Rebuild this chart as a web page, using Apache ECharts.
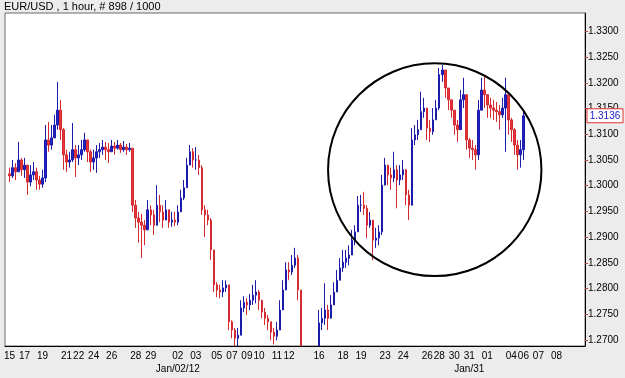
<!DOCTYPE html>
<html>
<head>
    <meta charset="UTF-8">
    <title>EUR/USD 1 hour</title>
    <style type="text/css">
        html, body {
            margin: 0;
            padding: 0;
            background: #ececec;
        }

        #chart {
            width: 625px;
            height: 378px;
        }
    </style>
    <script type="text/javascript" src="https://cdn.jsdelivr.net/npm/echarts@6/dist/echarts.min.js"></script>
</head>
<body>
<div id="chart"></div>
<script type="text/javascript">
    // hourly bars (open = previous close)
    var firstOpen = 1.3023;
    var closes = [
        1.3019, 1.3035, 1.3027, 1.3050, 1.3031, 1.3040, 1.3007, 1.3021, 1.3027, 1.3011,
        1.3003, 1.3015, 1.3089, 1.3079, 1.3093, 1.3118, 1.3147, 1.3109, 1.3060, 1.3046,
        1.3050, 1.3070, 1.3054, 1.3060, 1.3070, 1.3089, 1.3066, 1.3046, 1.3054, 1.3066,
        1.3070, 1.3075, 1.3070, 1.3066, 1.3077, 1.3073, 1.3079, 1.3070, 1.3075, 1.3070,
        1.3073, 1.2962, 1.2937, 1.2929, 1.2923, 1.2914, 1.2953, 1.2943, 1.2923, 1.2962,
        1.2949, 1.2933, 1.2953, 1.2929, 1.2933, 1.2929, 1.2949, 1.2976, 1.2996, 1.3040,
        1.3066, 1.3050, 1.3050, 1.3035, 1.2953, 1.2943, 1.2933, 1.2875, 1.2807, 1.2797,
        1.2793, 1.2801, 1.2807, 1.2735, 1.2719, 1.2703, 1.2709, 1.2762, 1.2773, 1.2768,
        1.2777, 1.2787, 1.2793, 1.2777, 1.2754, 1.2742, 1.2735, 1.2715, 1.2707, 1.2719,
        1.2758, 1.2797, 1.2836, 1.2832, 1.2845, 1.2859, 1.2797, 1.2665, 1.2655, 1.2660,
        1.2650, 1.2658, 1.2668, 1.2733, 1.2742, 1.2758, 1.2742, 1.2768, 1.2793, 1.2816,
        1.2840, 1.2851, 1.2859, 1.2865, 1.2894, 1.2910, 1.2962, 1.2962, 1.2956, 1.2923,
        1.2933, 1.2894, 1.2898, 1.2910, 1.3001, 1.3040, 1.3021, 1.3015, 1.3031, 1.3011,
        1.3021, 1.3031, 1.2982, 1.2962, 1.3089, 1.3099, 1.3109, 1.3144, 1.3151, 1.3112,
        1.3105, 1.3128, 1.3151, 1.3216, 1.3225, 1.3190, 1.3167, 1.3147, 1.3118, 1.3109,
        1.3167, 1.3177, 1.3089, 1.3073, 1.3070, 1.3060, 1.3147, 1.3186, 1.3177, 1.3157,
        1.3151, 1.3147, 1.3144, 1.3138, 1.3151, 1.3177, 1.3128, 1.3109, 1.3079, 1.3060,
        1.3070, 1.3136
    ];
    var highs = [
        1.3035, 1.3050, 1.3044, 1.3085, 1.3054, 1.3054, 1.3040, 1.3040, 1.3046, 1.3035,
        1.3019, 1.3031, 1.3118, 1.3124, 1.3118, 1.3138, 1.3202, 1.3167, 1.3112, 1.3070,
        1.3066, 1.3122, 1.3079, 1.3079, 1.3089, 1.3103, 1.3089, 1.3070, 1.3070, 1.3079,
        1.3083, 1.3089, 1.3085, 1.3083, 1.3089, 1.3085, 1.3089, 1.3083, 1.3087, 1.3081,
        1.3083, 1.3073, 1.2972, 1.2949, 1.2945, 1.2933, 1.2972, 1.2962, 1.2953, 1.3001,
        1.2982, 1.2962, 1.2972, 1.2953, 1.2949, 1.2949, 1.2962, 1.2992, 1.3011, 1.3054,
        1.3079, 1.3073, 1.3075, 1.3060, 1.3040, 1.2962, 1.2953, 1.2937, 1.2875, 1.2812,
        1.2807, 1.2816, 1.2816, 1.2807, 1.2738, 1.2723, 1.2723, 1.2777, 1.2785, 1.2781,
        1.2789, 1.2807, 1.2816, 1.2797, 1.2777, 1.2762, 1.2748, 1.2735, 1.2723, 1.2735,
        1.2777, 1.2816, 1.2851, 1.2851, 1.2865, 1.2879, 1.2865, 1.2797, 1.2672, 1.2675,
        1.2668, 1.2676, 1.2682, 1.2758, 1.2762, 1.2810, 1.2768, 1.2787, 1.2812, 1.2836,
        1.2859, 1.2875, 1.2875, 1.2884, 1.2914, 1.2923, 1.2980, 1.2982, 1.2988, 1.2962,
        1.2949, 1.2929, 1.2918, 1.2923, 1.3021, 1.3054, 1.3040, 1.3035, 1.3066, 1.3040,
        1.3040, 1.3050, 1.3021, 1.2992, 1.3112, 1.3118, 1.3128, 1.3183, 1.3171, 1.3144,
        1.3128, 1.3151, 1.3167, 1.3229, 1.3235, 1.3216, 1.3190, 1.3167, 1.3147, 1.3128,
        1.3186, 1.3210, 1.3167, 1.3093, 1.3089, 1.3079, 1.3167, 1.3210, 1.3216, 1.3177,
        1.3171, 1.3167, 1.3163, 1.3157, 1.3171, 1.3210, 1.3157, 1.3132, 1.3112, 1.3089,
        1.3089, 1.3144
    ];
    var lows = [
        1.3007, 1.3015, 1.3011, 1.3035, 1.3019, 1.3015, 1.2982, 1.2999, 1.3011, 1.2992,
        1.2992, 1.2996, 1.3007, 1.3066, 1.3070, 1.3099, 1.3109, 1.3089, 1.3031, 1.3027,
        1.3035, 1.3046, 1.3017, 1.3040, 1.3050, 1.3066, 1.3046, 1.3027, 1.3031, 1.3025,
        1.3054, 1.3060, 1.3050, 1.3044, 1.3066, 1.3060, 1.3070, 1.3064, 1.3066, 1.3060,
        1.3066, 1.2949, 1.2918, 1.2889, 1.2859, 1.2884, 1.2929, 1.2923, 1.2904, 1.2943,
        1.2929, 1.2918, 1.2933, 1.2918, 1.2920, 1.2921, 1.2923, 1.2953, 1.2972, 1.3001,
        1.3040, 1.3035, 1.3031, 1.3021, 1.2943, 1.2900, 1.2923, 1.2855, 1.2793, 1.2783,
        1.2781, 1.2783, 1.2793, 1.2719, 1.2703, 1.2688, 1.2688, 1.2709, 1.2754, 1.2748,
        1.2758, 1.2768, 1.2771, 1.2758, 1.2742, 1.2729, 1.2719, 1.2699, 1.2691, 1.2699,
        1.2719, 1.2777, 1.2816, 1.2816, 1.2826, 1.2840, 1.2777, 1.2650, 1.2640, 1.2645,
        1.2638, 1.2642, 1.2652, 1.2665, 1.2719, 1.2729, 1.2719, 1.2742, 1.2768, 1.2793,
        1.2816, 1.2832, 1.2840, 1.2845, 1.2875, 1.2884, 1.2923, 1.2949, 1.2943, 1.2898,
        1.2918, 1.2855, 1.2879, 1.2884, 1.2904, 1.3011, 1.3001, 1.2992, 1.3007, 1.2956,
        1.3001, 1.3011, 1.2962, 1.2933, 1.2962, 1.3079, 1.3089, 1.3118, 1.3132, 1.3089,
        1.3085, 1.3099, 1.3128, 1.3147, 1.3202, 1.3171, 1.3147, 1.3132, 1.3099, 1.3085,
        1.3118, 1.3151, 1.3070, 1.3054, 1.3050, 1.3031, 1.3050, 1.3157, 1.3151, 1.3132,
        1.3132, 1.3128, 1.3124, 1.3109, 1.3132, 1.3066, 1.3099, 1.3085, 1.3060, 1.3031,
        1.3035, 1.3050
    ];
    var lastPrice = 1.3136;

    // slots on the time axis (bars + empty space on the right)
    var slotCount = 193;
    var tickIndex = [1, 6, 12, 20, 24, 29, 35, 43, 48, 57, 63, 70, 75, 80, 84, 90, 94, 104, 112, 118,
        126, 132, 140, 144, 149, 154, 160, 168, 172, 177, 183];
    var tickText = ['15', '17', '19', '21', '22', '24', '26', '28', '29', '02', '03', '05', '07', '09', '10',
        '11', '12', '16', '18', '19', '23', '24', '26', '28', '30', '31', '01', '04', '06', '07', '08'];
    var dateIndex = [57, 154];
    var dateText = ['Jan/02/12', 'Jan/31'];

    // circled area (slot index / price)
    var circleLeft = 107, circleRight = 178;
    var circleTop = 1.3238, circleBottom = 1.2824;

    var categories = [];
    for (var i = 0; i < slotCount; i++) categories.push('');
    tickIndex.forEach(function (idx, k) {
        categories[idx] = tickText[k];
    });
    dateIndex.forEach(function (idx, k) {
        categories[idx] += '\n' + dateText[k];
    });

    var candles = [];
    var prev = firstOpen;
    for (i = 0; i < closes.length; i++) {
        var o = prev, c = closes[i];
        candles.push([i + 1, o, c, Math.min(lows[i], o, c), Math.max(highs[i], o, c)]);
        prev = c;
    }

    var font = '"Liberation Sans", Arial, sans-serif';
    var myChart = echarts.init(document.getElementById('chart'));

    var option = {
        animation: false,
        backgroundColor: '#ececec',
        title: {
            text: 'EUR/USD , 1 hour, # 898 / 1000',
            left: 4,
            top: 1,
            padding: 0,
            textStyle: {fontFamily: font, fontSize: 11, fontWeight: 'normal', color: '#000'}
        },
        grid: {
            left: 5,
            right: 40,
            top: 13,
            bottom: 32,
            show: true,
            backgroundColor: '#ffffff',
            borderColor: '#6a6a6a',
            borderWidth: 1
        },
        xAxis: {
            type: 'category',
            data: categories,
            boundaryGap: true,
            z: 10,
            axisLine: {lineStyle: {color: '#000', width: 1}},
            axisTick: {
                alignWithLabel: true,
                length: 3,
                interval: function (idx, val) {
                    return val !== '';
                },
                lineStyle: {color: '#c04040'}
            },
            axisLabel: {
                interval: function (idx, val) {
                    return val !== '';
                },
                margin: 4,
                fontFamily: font,
                fontSize: 10,
                lineHeight: 13,
                color: '#000'
            },
            splitLine: {show: false}
        },
        yAxis: {
            type: 'value',
            position: 'right',
            scale: true,
            min: 1.2688,
            max: 1.3336,
            splitNumber: 13,
            z: 10,
            axisLine: {show: true, lineStyle: {color: '#000', width: 1}},
            axisTick: {show: true, length: 3, lineStyle: {color: '#c04040'}},
            axisLabel: {
                margin: 3,
                fontFamily: font,
                fontSize: 10,
                color: '#000',
                showMinLabel: false,
                showMaxLabel: false,
                formatter: function (v) {
                    var k = v / 0.005;
                    if (Math.abs(k - Math.round(k)) > 1e-6) return '';
                    return v.toFixed(4);
                }
            },
            splitLine: {show: false}
        },
        series: [{
            type: 'candlestick',
            data: candles,
            encode: {x: 0, y: [1, 2, 3, 4]},
            barWidth: 2,
            clip: true,
            itemStyle: {
                color: '#2222c8',
                color0: '#e8353a',
                borderColor: '#1c1caa',
                borderColor0: '#d42a30',
                borderWidth: 1
            }
        }]
    };
    myChart.setOption(option);

    // annotations placed through the axes
    var tl = myChart.convertToPixel({xAxisIndex: 0, yAxisIndex: 0}, [circleLeft, circleTop]);
    var br = myChart.convertToPixel({xAxisIndex: 0, yAxisIndex: 0}, [circleRight, circleBottom]);
    var tagY = myChart.convertToPixel({yAxisIndex: 0}, lastPrice);
    var bottomY = myChart.convertToPixel({yAxisIndex: 0}, 1.2688);
    var axisX = myChart.convertToPixel({xAxisIndex: 0}, slotCount - 1) + 580 / slotCount / 2;

    myChart.setOption({
        graphic: [{
            // hides the parts of bars that fall under the plot frame
            type: 'rect',
            shape: {x: 0, y: bottomY + 0.5, width: axisX, height: 378 - bottomY},
            style: {fill: '#ececec'},
            z: 5
        }, {
            type: 'ellipse',
            shape: {
                cx: (tl[0] + br[0]) / 2,
                cy: (tl[1] + br[1]) / 2,
                rx: (br[0] - tl[0]) / 2,
                ry: (br[1] - tl[1]) / 2
            },
            style: {fill: 'none', stroke: '#000', lineWidth: 2},
            z: 100
        }, {
            type: 'rect',
            shape: {x: axisX + 2, y: tagY - 7, width: 36, height: 14},
            style: {fill: '#fff', stroke: '#e03030', lineWidth: 1},
            z: 100
        }, {
            type: 'text',
            x: axisX + 20,
            y: tagY,
            style: {
                text: lastPrice.toFixed(4),
                fontFamily: font,
                fontSize: 10,
                fill: '#2020d0',
                align: 'center',
                verticalAlign: 'middle'
            },
            z: 101
        }]
    });
</script>
</body>
</html>
